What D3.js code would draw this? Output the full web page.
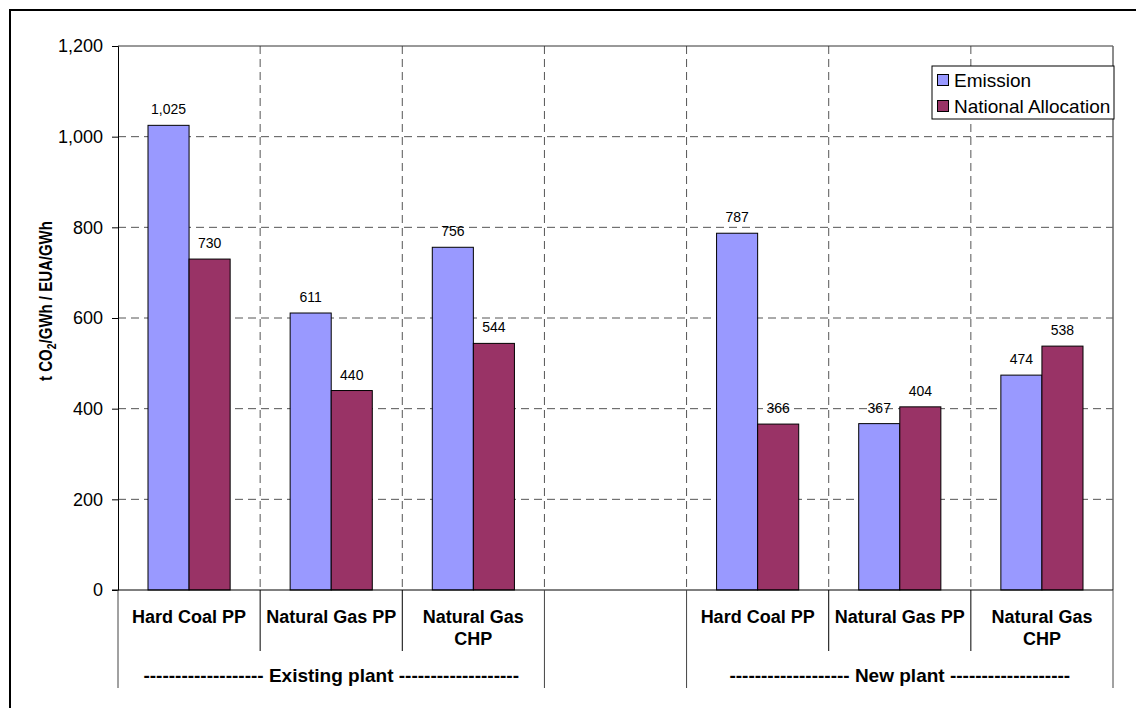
<!DOCTYPE html>
<html><head><meta charset="utf-8">
<script src="https://cdn.jsdelivr.net/npm/d3@7"></script>
<style>body{margin:0;background:#fff}svg{display:block;font-family:Arial,"Liberation Sans",sans-serif}</style>
</head><body><svg id="c" width="1136" height="708"></svg>
<script>
const slots = ["ex-coal","ex-gas","ex-chp","gap","new-coal","new-gas","new-chp"];
const categoryLabels = [["Hard Coal PP"],["Natural Gas PP"],["Natural Gas","CHP"],[],["Hard Coal PP"],["Natural Gas PP"],["Natural Gas","CHP"]];
const emission = [1025, 611, 756, null, 787, 367, 474];
const allocation = [730, 440, 544, null, 366, 404, 538];
const seriesNames = ["Emission","National Allocation"];
const seriesColors = ["#9999FF","#993366"];
const groups = [{label:"------------------- Existing plant -------------------", from:0, to:2},
                {label:"------------------- New plant -------------------", from:4, to:6}];
const yTicks = [0,200,400,600,800,1000,1200];

const svg = d3.select("#c");
const L=118,R=1113,T=46,B=590;
svg.append("rect").attr("x",10).attr("y",10).attr("width",1140).attr("height",720)
  .attr("fill","none").attr("stroke","#000").attr("stroke-width",2);

const x = d3.scaleBand().domain(slots).range([L,R]).paddingInner(0).paddingOuter(0);
const y = d3.scaleLinear().domain([0,1200]).range([B,T]);
const inner = d3.scaleBand().domain([0,1]).range([30, x.bandwidth()-30]);

// gridlines
svg.append("g").selectAll("line").data(yTicks.filter(d=>d>0&&d<1200)).join("line")
  .attr("x1",L).attr("x2",R).attr("y1",d=>y(d)).attr("y2",d=>y(d))
  .attr("stroke","#555").attr("stroke-dasharray","8,5");
svg.append("g").selectAll("line").data(slots.slice(1)).join("line")
  .attr("x1",d=>x(d)).attr("x2",d=>x(d)).attr("y1",T).attr("y2",B)
  .attr("stroke","#555").attr("stroke-dasharray","8,5");
// plot border top/right
svg.append("line").attr("x1",L).attr("x2",R).attr("y1",T).attr("y2",T).attr("stroke","#333");
svg.append("line").attr("x1",R).attr("x2",R).attr("y1",T).attr("y2",B).attr("stroke","#666").attr("stroke-width",1.5);

// bars
const series=[emission,allocation];
series.forEach((vals,si)=>{
  const g=svg.append("g");
  const data=slots.map((s,i)=>({s,v:vals[i]})).filter(d=>d.v!=null);
  g.selectAll("rect").data(data).join("rect")
    .attr("x",d=>x(d.s)+inner(si)).attr("width",inner.bandwidth())
    .attr("y",d=>y(d.v)).attr("height",d=>B-y(d.v))
    .attr("fill",seriesColors[si]).attr("stroke","#000").attr("stroke-width",1);
  g.selectAll("text").data(data).join("text")
    .attr("x",d=>x(d.s)+inner(si)+inner.bandwidth()/2).attr("y",d=>y(d.v)-11)
    .attr("text-anchor","middle").attr("font-size",14).text(d=>d3.format(",")(d.v));
});

// y axis
const ya = svg.append("g").attr("transform",`translate(${L},0)`)
  .call(d3.axisLeft(y).tickValues(yTicks).tickFormat(d3.format(",")).tickSize(6).tickPadding(9));
ya.select(".domain").attr("stroke","#000");
ya.selectAll("text").attr("font-size",18).attr("fill","#000").attr("font-family","Arial,'Liberation Sans',sans-serif");
ya.selectAll("line").attr("stroke","#000");

// x axis line
svg.append("line").attr("x1",L-6).attr("x2",R).attr("y1",B).attr("y2",B).attr("stroke","#000");

// category separators below axis
const catSep = [1,2,5,6];
svg.append("g").selectAll("line").data(catSep).join("line")
  .attr("x1",d=>x(slots[d])).attr("x2",d=>x(slots[d])).attr("y1",B).attr("y2",651).attr("stroke","#000");
const grpSep = [L, x(slots[3]), x(slots[4]), R];
svg.append("g").selectAll("line").data(grpSep).join("line")
  .attr("x1",d=>d).attr("x2",d=>d).attr("y1",B).attr("y2",688).attr("stroke","#444");

// category labels
slots.forEach((s,i)=>{
  const t=svg.append("text").attr("x",x(s)+x.bandwidth()/2).attr("y",623)
    .attr("text-anchor","middle").attr("font-size",18).attr("font-weight","bold");
  categoryLabels[i].forEach((ln,j)=>t.append("tspan").attr("x",x(s)+x.bandwidth()/2).attr("dy",j?22:0).text(ln));
});
groups.forEach(g=>{
  svg.append("text").attr("x",(x(slots[g.from])+x(slots[g.to])+x.bandwidth())/2).attr("y",682)
    .attr("text-anchor","middle").attr("font-size",19).attr("font-weight","bold").text(g.label);
});

// y title
svg.append("text").attr("transform","translate(52,301) rotate(-90) scale(1,1.2)").attr("text-anchor","middle")
  .attr("font-size",15).attr("font-weight","bold")
  .html('t CO<tspan font-size="10.5" dy="3">2</tspan><tspan dy="-3">/GWh / EUA/GWh</tspan>');

// legend
const lg=svg.append("g");
lg.append("rect").attr("x",932).attr("y",66).attr("width",182).attr("height",53).attr("fill","#fff").attr("stroke","#000");
seriesNames.forEach((n,i)=>{
  lg.append("rect").attr("x",937.5).attr("y",74.5+i*26).attr("width",11).attr("height",11)
    .attr("fill",seriesColors[i]).attr("stroke","#000");
  lg.append("text").attr("x",954).attr("y",87+i*26).attr("font-size",19).text(n);
});
</script></body></html>
